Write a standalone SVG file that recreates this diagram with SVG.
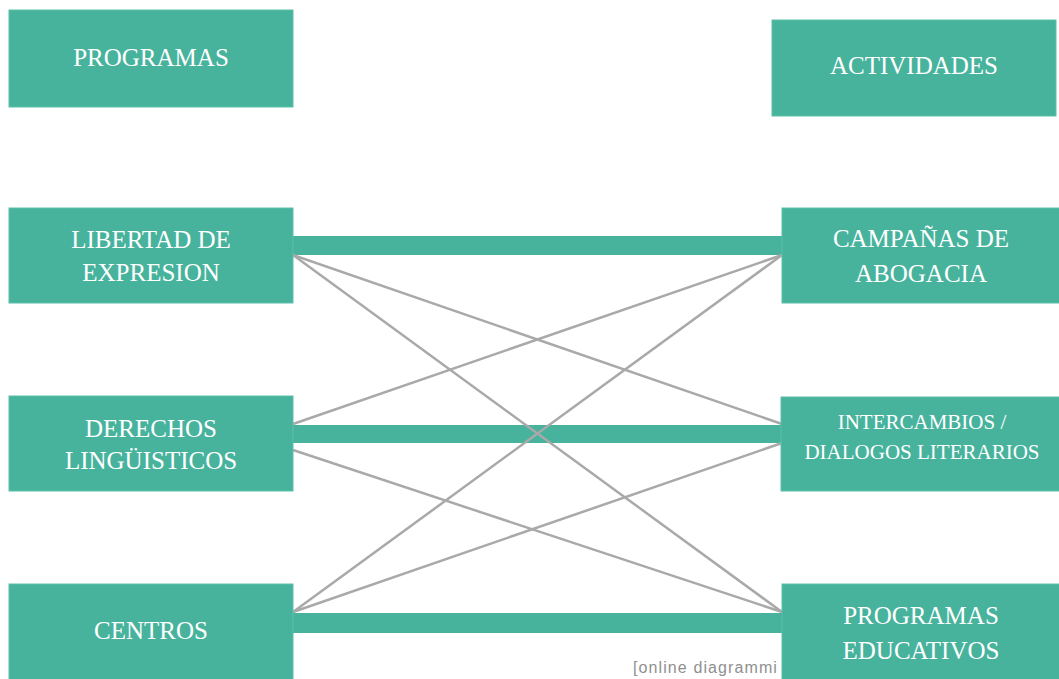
<svg xmlns="http://www.w3.org/2000/svg" width="1059" height="679" viewBox="0 0 1059 679">
<style>
.node{fill:#47b39d;stroke:#5cc0aa;stroke-width:1}
.t{font-family:"Liberation Serif","Times New Roman",serif;font-size:25px;fill:#ffffff;text-anchor:middle}
.ts{font-family:"Liberation Serif","Times New Roman",serif;font-size:21px;fill:#ffffff;text-anchor:middle}
.bar{fill:#47b39d}
.thin{stroke:#a9a9a9;stroke-width:2.5;fill:none}
.wm{font-family:"Liberation Sans",Arial,sans-serif;font-size:16px;letter-spacing:1.1px;fill:#8f8f8f}
</style>
<rect width="1059" height="679" fill="#ffffff"/>
<g id="connectors">
<rect class="bar" x="292" y="236" width="492" height="19"/>
<rect class="bar" x="292" y="425" width="492" height="18"/>
<rect class="bar" x="292" y="613" width="492" height="20"/>
<line class="thin" x1="293" y1="255" x2="782" y2="424"/>
<line class="thin" x1="293" y1="255" x2="782" y2="612"/>
<line class="thin" x1="293" y1="424" x2="782" y2="255"/>
<line class="thin" x1="293" y1="450" x2="782" y2="612"/>
<line class="thin" x1="293" y1="612" x2="782" y2="255"/>
<line class="thin" x1="293" y1="612" x2="782" y2="443"/>
</g>
<text class="wm" x="633" y="673">[online diagrammi</text>
<g id="n-programas">
<rect class="node" x="9" y="10" width="284" height="97"/>
<text class="t" x="151" y="66">PROGRAMAS</text>
</g>
<g id="n-actividades">
<rect class="node" x="772" y="20" width="284" height="96"/>
<text class="t" x="914" y="74">ACTIVIDADES</text>
</g>
<g id="n-libertad">
<rect class="node" x="9" y="208" width="284" height="95"/>
<text class="t" x="151" y="248">LIBERTAD DE</text>
<text class="t" x="151" y="281">EXPRESION</text>
</g>
<g id="n-derechos">
<rect class="node" x="9" y="396" width="284" height="95"/>
<text class="t" x="151" y="437">DERECHOS</text>
<text class="t" x="151" y="469">LINGÜISTICOS</text>
</g>
<g id="n-centros">
<rect class="node" x="9" y="584" width="284" height="100"/>
<text class="t" x="151" y="639">CENTROS</text>
</g>
<g id="n-campanas">
<rect class="node" x="782" y="208" width="282" height="95"/>
<text class="t" x="921" y="247">CAMPAÑAS DE</text>
<text class="t" x="921" y="282">ABOGACIA</text>
</g>
<g id="n-intercambios">
<rect class="node" x="781" y="397" width="283" height="94"/>
<text class="ts" x="922" y="429">INTERCAMBIOS /</text>
<text class="ts" x="922" y="459">DIALOGOS LITERARIOS</text>
</g>
<g id="n-educativos">
<rect class="node" x="782" y="584" width="282" height="100"/>
<text class="t" x="921" y="624">PROGRAMAS</text>
<text class="t" x="921" y="659">EDUCATIVOS</text>
</g>
</svg>
